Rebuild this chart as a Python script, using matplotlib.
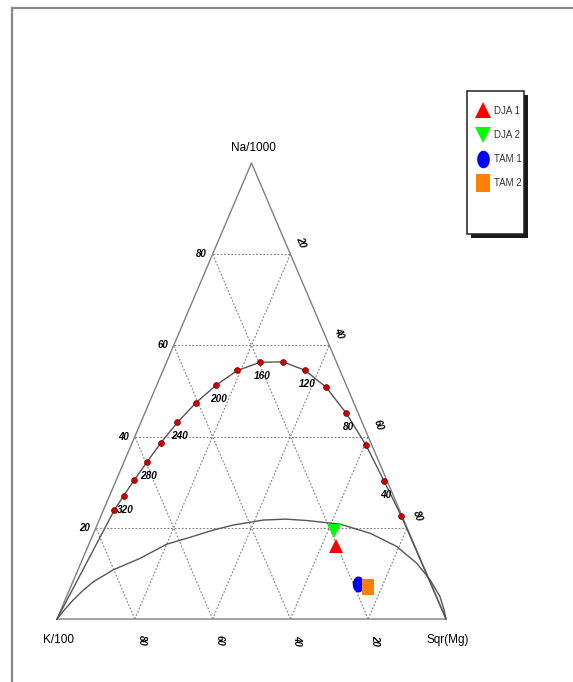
import numpy as np
import matplotlib
matplotlib.use("Agg")
import matplotlib.pyplot as plt
from matplotlib.patches import Rectangle
from matplotlib.lines import Line2D

# ---------------- data (ternary fractions: Na/1000, K/100, Sqr(Mg)) ----------------
# full-equilibrium line dots (temperatures in deg C)
eq_temps = [340, 320, 300, 280, 260, 240, 220, 200, 180, 160, 140, 120, 100, 80, 60, 40, 20]
eq_na = [0.239, 0.270, 0.304, 0.344, 0.387, 0.431, 0.474, 0.513, 0.545, 0.563,
         0.564, 0.545, 0.508, 0.452, 0.381, 0.303, 0.226]
eq_mg = [0.028, 0.036, 0.046, 0.059, 0.074, 0.094, 0.120, 0.153, 0.191, 0.241,
         0.299, 0.366, 0.438, 0.517, 0.604, 0.689, 0.772]
eq_labelled = [320, 280, 240, 200, 160, 120, 80, 40]

# immature-water (partial equilibrium) line
imm_na = [0.0, 0.020, 0.042, 0.062, 0.082, 0.108, 0.133, 0.164, 0.179, 0.195, 0.206, 0.217,
          0.219, 0.216, 0.208, 0.188, 0.159, 0.122, 0.086, 0.049, 0.020, 0.0]
imm_mg = [0.0, 0.009, 0.021, 0.035, 0.053, 0.091, 0.147, 0.200, 0.252, 0.304, 0.350, 0.422,
          0.478, 0.534, 0.624, 0.711, 0.794, 0.864, 0.916, 0.960, 0.985, 1.0]

# samples
sample_names = ["DJA 1", "DJA 2", "TAM 1", "TAM 2"]
sample_na = [0.159, 0.194, 0.077, 0.071]
sample_mg = [0.638, 0.614, 0.735, 0.764]

grid_ticks = [20, 40, 60, 80]
vertex_labels = ["Na/1000", "K/100", "Sqr(Mg)"]

# ---------------- styles ----------------
W, H = 573, 682
DPI = 100
ARIAL = ["Liberation Sans", "DejaVu Sans"]

# pixel geometry of the triangle (layout only)
PX_L, PX_R, PX_B, PX_T = 57.0, 446.0, 619.0, 163.0
sx = PX_R - PX_L
sy = PX_B - PX_T


def proj(na, mg):
    na = np.asarray(na, float)
    mg = np.asarray(mg, float)
    return mg + 0.5 * na, na


fig = plt.figure(figsize=(W / DPI, H / DPI), dpi=DPI)
fig.patch.set_facecolor("white")
ax = fig.add_axes([0, 0, 1, 1])
ax.set_xlim(-PX_L / sx, (W - PX_L) / sx)
ax.set_ylim(-(H - PX_B) / sy, PX_B / sy)
ax.axis("off")

# outer frame (page border)
fig.add_artist(Line2D([12 / W, 12 / W], [0, 1 - 8 / H], transform=fig.transFigure,
                      color="#8a8a8a", lw=1.6))
fig.add_artist(Line2D([12 / W, 1], [1 - 8 / H, 1 - 8 / H], transform=fig.transFigure,
                      color="#8a8a8a", lw=1.6))

# grid lines
gstyle = dict(color="#808080", lw=0.8, linestyle=(0, (1.6, 1.6)), zorder=1)
for t in grid_ticks:
    f = t / 100.0
    x, y = proj([f, f], [0, 1 - f]); ax.plot(x, y, **gstyle)           # Na const
    x, y = proj([0, 1 - f], [f, f]); ax.plot(x, y, **gstyle)           # Mg const
    x, y = proj([0, 1 - f], [1 - f, 0]); ax.plot(x, y, **gstyle)       # K const

# triangle edges
x, y = proj([0, 0, 1, 0], [0, 1, 0, 0])
ax.plot(x, y, color="#7f7f7f", lw=1.0, zorder=2)

# full equilibrium line + dots
x, y = proj([0.0] + eq_na + [0.0], [0.0] + eq_mg + [1.0])
ax.plot(x, y, color="#555555", lw=1.0, zorder=3)
x, y = proj(eq_na, eq_mg)
ax.plot(x, y, linestyle="none", marker="o", ms=4.2, mfc="#d00000", mec="#700000",
        mew=0.5, zorder=4)
for t in eq_labelled:
    i = eq_temps.index(t)
    px, py = proj(eq_na[i], eq_mg[i])
    ax.annotate(str(t), (px, py), xytext=(2, -14), textcoords="offset pixels",
                ha="center", va="center", fontsize=7.2, fontweight="bold",
                fontstyle="italic", family=ARIAL, zorder=5)

# immature water line
x, y = proj(imm_na, imm_mg)
ax.plot(x, y, color="#555555", lw=1.0, zorder=3)

# tick labels
tk = dict(fontsize=7, fontweight="bold", fontstyle="italic", family=ARIAL,
          ha="center", va="center", textcoords="offset pixels")
for t in grid_ticks:
    f = t / 100.0
    # left edge (Na)
    px, py = proj(f, 0.0)
    ax.annotate(str(t), (px, py), xytext=(-11, 0), **tk)
    # bottom edge (K)
    px, py = proj(0.0, 1 - f)
    ax.annotate(str(t), (px, py), xytext=(7, -21), rotation=-90, **tk)
    # right edge (Mg)
    px, py = proj(1 - f, f)
    ax.annotate(str(t), (px, py), xytext=(10, 12), rotation=-70, **tk)

# vertex labels
vt = dict(fontsize=8.5, family=ARIAL, ha="center", va="center", textcoords="offset pixels")
px, py = proj(1.0, 0.0)
ax.annotate(vertex_labels[0], (px, py), xytext=(2, 15), **vt)
px, py = proj(0.0, 0.0)
ax.annotate(vertex_labels[1], (px, py), xytext=(1, -21), **vt)
px, py = proj(0.0, 1.0)
ax.annotate(vertex_labels[2], (px, py), xytext=(2, -21), **vt)

# sample markers
ell = [(0.72 * np.cos(a), np.sin(a)) for a in np.linspace(0, 2 * np.pi, 40)]
rect = [(-0.8, -1), (0.8, -1), (0.8, 1), (-0.8, 1), (-0.8, -1)]
sample_style = [
    dict(marker="^", ms=10.5, color="#ff0000"),
    dict(marker="v", ms=10.5, color="#00ff00"),
    dict(marker=ell, ms=11.5, color="#0000ff"),
    dict(marker=rect, ms=11.5, color="#ff8000"),
]
handles = []
for nm, na, mg, st in zip(sample_names, sample_na, sample_mg, sample_style):
    x, y = proj(na, mg)
    h, = ax.plot([x], [y], linestyle="none", mew=0, label=nm, zorder=6, **st)
    handles.append(h)

# legend box with shadow
fig.add_artist(Rectangle((470.5 / W, 1 - 238 / H), 57 / W, 143 / H, transform=fig.transFigure,
                         facecolor="#1a1a1a", edgecolor="none", zorder=1))
fig.add_artist(Rectangle((466.5 / W, 1 - 234 / H), 57 / W, 143 / H, transform=fig.transFigure,
                         facecolor="white", edgecolor="#222222", lw=1.1, zorder=2))
leg = fig.legend(handles=handles, loc="upper left",
                 bbox_to_anchor=(473.5 / W, 1 - 101.0 / H), bbox_transform=fig.transFigure,
                 frameon=False, borderpad=0, handlelength=1.0, handletextpad=0.65,
                 labelspacing=1.45, prop={"family": ARIAL, "size": 7}, markerscale=1.1)
for txt in leg.get_texts():
    txt.set_color("#333333")
leg.set_zorder(5)

fig.savefig("out.png", dpi=DPI, facecolor="white")
